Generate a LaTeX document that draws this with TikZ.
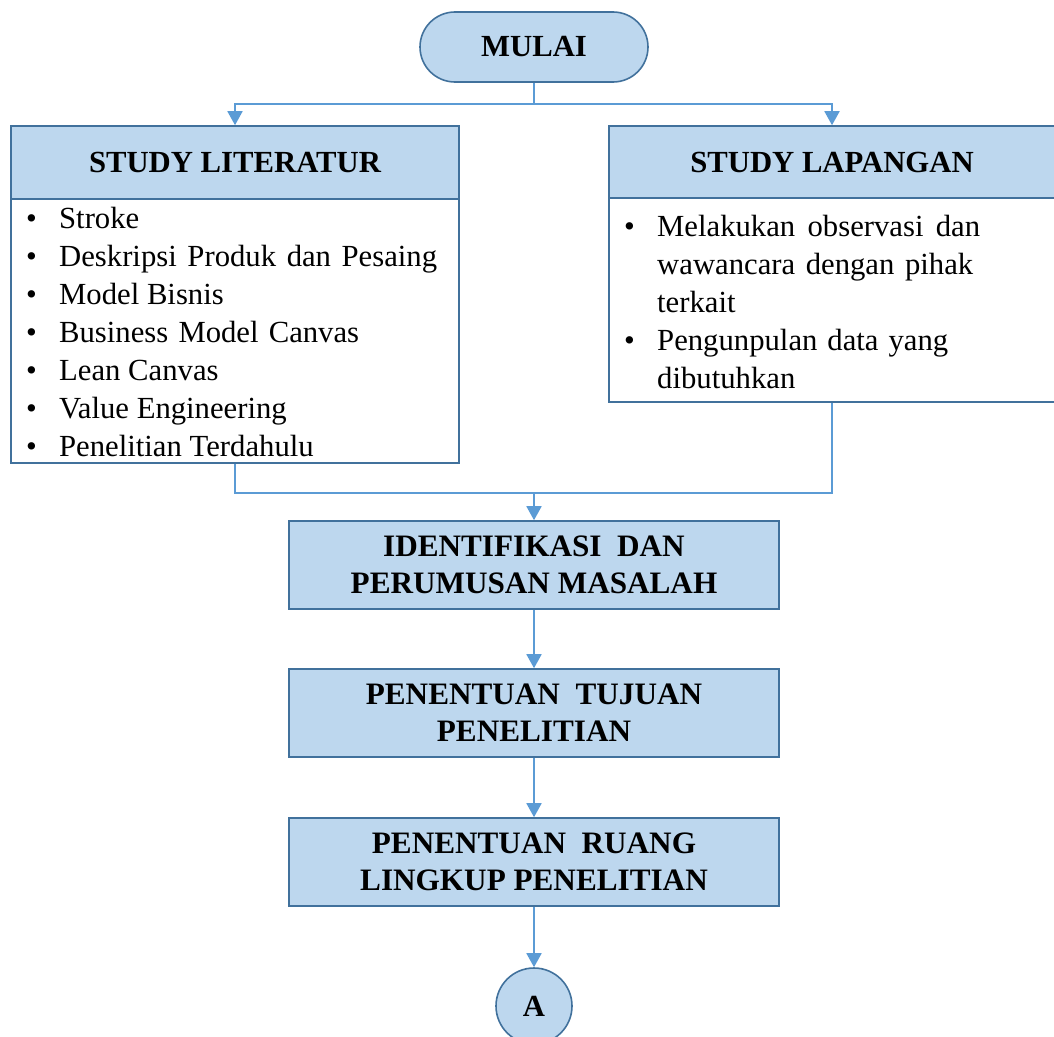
\documentclass[tikz,border=0pt]{standalone}
\usepackage{fontspec}
\setmainfont{Liberation Serif}
\usetikzlibrary{arrows.meta}
\definecolor{boxfill}{HTML}{BDD7EE}
\definecolor{boxline}{HTML}{41719C}
\definecolor{linkline}{HTML}{5B9BD5}
\newcommand\itembullet{\makebox[33pt][l]{\textbullet}}
\begin{document}
\begin{tikzpicture}[x=1pt,y=-1pt,
  txt/.style={font=\fontsize{30.7}{37}\selectfont},
  head/.style={txt,font=\fontsize{30.7}{37}\selectfont\bfseries,draw=boxline,line width=1.6pt,fill=boxfill,inner sep=0pt,align=center},
  body/.style={draw=boxline,line width=1.6pt,fill=white,inner sep=0pt},
  midbox/.style={head,font=\fontsize{31.2}{37}\selectfont\bfseries,minimum width=490pt,minimum height=88pt},
  itemline/.style={txt,inner sep=0pt,anchor=base west},
  link/.style={draw=linkline,line width=1.8pt},
  arrow/.style={link,-{Triangle[width=15pt,length=14pt]}}]
\useasboundingbox (0,0) rectangle (1054,1036);

% start terminal
\node[head,rounded corners=35pt,minimum width=228pt,minimum height=70pt] (mulai) at (534,47) {MULAI};

% literature study
\node[head,minimum width=448pt,minimum height=73pt] (litHead) at (235,162.5) {STUDY LITERATUR};
\node[body,minimum width=448pt,minimum height=264pt] (litBody) at (235,331) {};
\foreach \t [count=\i] in {Stroke,\makebox[378pt][s]{Deskripsi Produk dan Pesaing},Model Bisnis,\makebox[300pt][s]{Business Model Canvas},Lean Canvas,Value Engineering,Penelitian Terdahulu}
  \node[itemline] (lit\i) at (26,{190+38*\i}) {\itembullet\t};

% field study
\node[head,minimum width=446pt,minimum height=72pt] (lapHead) at (832,162) {STUDY LAPANGAN};
\node[body,minimum width=446pt,minimum height=204pt] (lapBody) at (832,300) {};
\node[itemline] (lap1) at (624,236) {\itembullet\makebox[323pt][s]{Melakukan observasi dan}};
\node[itemline] (lap2) at (657,274) {\makebox[316pt][s]{wawancara dengan pihak}};
\node[itemline] (lap3) at (657,312) {terkait};
\node[itemline] (lap4) at (624,350) {\itembullet\makebox[291pt][s]{Pengunpulan data yang}};
\node[itemline] (lap5) at (657,388) {dibutuhkan};

% main process steps
\node[midbox] (ident) at (534,565) {IDENTIFIKASI\ \ DAN\\PERUMUSAN MASALAH};
\node[midbox] (tujuan) at (534,713) {PENENTUAN\ \ TUJUAN\\PENELITIAN};
\node[midbox] (ruang) at (534,862) {PENENTUAN\ \ RUANG\\LINGKUP PENELITIAN};

% off-page connector
\node[head,circle,minimum size=76pt] (conA) at (534,1006) {A};

% connectors
\coordinate (split) at (534,104);
\coordinate (join) at (534,493);
\draw[link] (mulai.south) -- (split);
\draw[arrow] (split) -| (litHead.north);
\draw[arrow] (split) -| (lapHead.north);
\draw[link] (litBody.south) |- (join);
\draw[link] (lapBody.south) |- (join);
\draw[arrow] (join) -- (ident.north);
\draw[arrow] (ident.south) -- (tujuan.north);
\draw[arrow] (tujuan.south) -- (ruang.north);
\draw[arrow] (ruang.south) -- (conA.north);
\end{tikzpicture}
\end{document}
